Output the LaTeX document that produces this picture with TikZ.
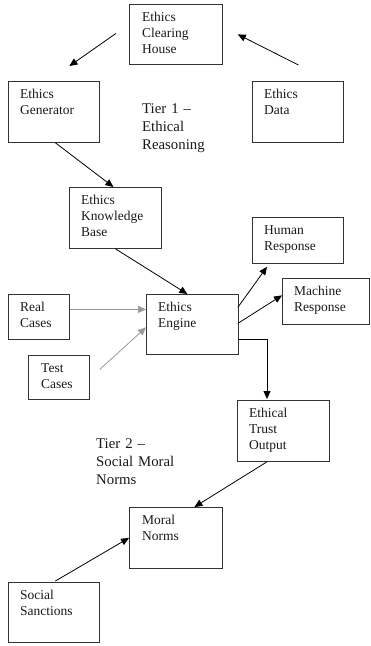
\documentclass[tikz,border=0pt]{standalone}
\usepackage{fontspec}
\setmainfont{Liberation Serif}
\usetikzlibrary{arrows.meta,calc}
\begin{document}
\begin{tikzpicture}[x=1pt,y=-1pt,
  box/.style={draw=black!80,line width=0.8pt,inner sep=0pt,anchor=north west},
  lbl/.style={inner sep=0pt,anchor=base west,text width=90pt,align=left,
    font=\fontsize{13.5}{16}\selectfont,text=black!90},
  tier/.style={inner sep=0pt,anchor=base west,text width=120pt,align=left,
    font=\fontsize{14.8}{18}\selectfont,text=black!90},
  arr/.style={line width=0.8pt,-{Triangle[length=8pt,width=7pt]}},
  garr/.style={line width=0.8pt,draw=black!40,-{Triangle[length=8pt,width=7pt,fill=black!40]}}]
\useasboundingbox (0,0) rectangle (370,646);
% boxes
\node[box,minimum width=93pt,minimum height=60pt] (clear) at (129,4) {};
\node[box,minimum width=91pt,minimum height=61pt] (gen) at (8,81) {};
\node[box,minimum width=91pt,minimum height=61pt] (data) at (252,81) {};
\node[box,minimum width=92pt,minimum height=61pt] (kb) at (69,187) {};
\node[box,minimum width=91pt,minimum height=46pt] (human) at (252,217) {};
\node[box,minimum width=87pt,minimum height=46pt] (machine) at (282,278) {};
\node[box,minimum width=61pt,minimum height=45pt] (real) at (8,294) {};
\node[box,minimum width=92pt,minimum height=60pt] (engine) at (146,294) {};
\node[box,minimum width=61pt,minimum height=44pt] (test) at (28,355) {};
\node[box,minimum width=92pt,minimum height=61pt] (trust) at (237,400) {};
\node[box,minimum width=93pt,minimum height=61pt] (moral) at (129,507) {};
\node[box,minimum width=91pt,minimum height=60pt] (social) at (8,582) {};
% texts
\node[lbl] (clear-t) at ($(clear.north west)+(13,17.7)$) {Ethics\\Clearing\\House};
\node[lbl] (gen-t) at ($(gen.north west)+(12,17.5)$) {Ethics\\Generator};
\node[lbl] (data-t) at ($(data.north west)+(12,17.5)$) {Ethics\\Data};
\node[lbl] (kb-t) at ($(kb.north west)+(12,17.5)$) {Ethics\\Knowledge\\Base};
\node[lbl] (human-t) at ($(human.north west)+(12,17.5)$) {Human\\Response};
\node[lbl] (machine-t) at ($(machine.north west)+(12,17.5)$) {Machine\\Response};
\node[lbl] (real-t) at ($(real.north west)+(12,17.5)$) {Real\\Cases};
\node[lbl] (engine-t) at ($(engine.north west)+(12,17.5)$) {Ethics\\Engine};
\node[lbl] (test-t) at ($(test.north west)+(13,17.5)$) {Test\\Cases};
\node[lbl] (trust-t) at ($(trust.north west)+(12,17.5)$) {Ethical\\Trust\\Output};
\node[lbl] (moral-t) at ($(moral.north west)+(13,17.5)$) {Moral\\Norms};
\node[lbl] (social-t) at ($(social.north west)+(12,17.5)$) {Social\\Sanctions};
\node[tier] (tier1) at (142,113) {Tier 1 –\\Ethical\\Reasoning};
\node[tier] (tier2) at (96,448) {Tier 2 –\\Social Moral\\Norms};
% connectors
\draw[arr] ($(clear.west)+(-13,-1)$) -- ($(gen.north)+(15.5,-15)$);
\draw[arr] ($(data.north)+(0.5,-16)$) -- ($(clear.east)+(15,0)$);
\draw[arr] ($(gen.south)+(1.5,0)$) -- ($(kb.north)+(-2,0)$);
\draw[arr] (kb.south) -- ($(engine.north)+(-5,0)$);
\draw[garr] ($(real.east)+(0,-7.5)$) -- ($(engine.west)+(0,-15)$);
\draw[garr] ($(test.east)+(10,-8)$) -- ($(engine.west)+(0,3)$);
\draw[arr] ($(engine.east)+(-1,-17)$) -- ($(human.south west)+(15,3)$);
\draw[arr] ($(engine.east)+(-1,-1)$) -- ($(machine.west)+(0,-6)$);
\draw[arr] ($(engine.east)+(0,15)$) -| ($(trust.north west)+(30,-1)$);
\draw[arr] ($(trust.south west)+(30,0)$) -- ($(moral.north)+(18.5,0)$);
\draw[arr] ($(social.north)+(1.5,-1)$) -- (moral.west);
\end{tikzpicture}
\end{document}
